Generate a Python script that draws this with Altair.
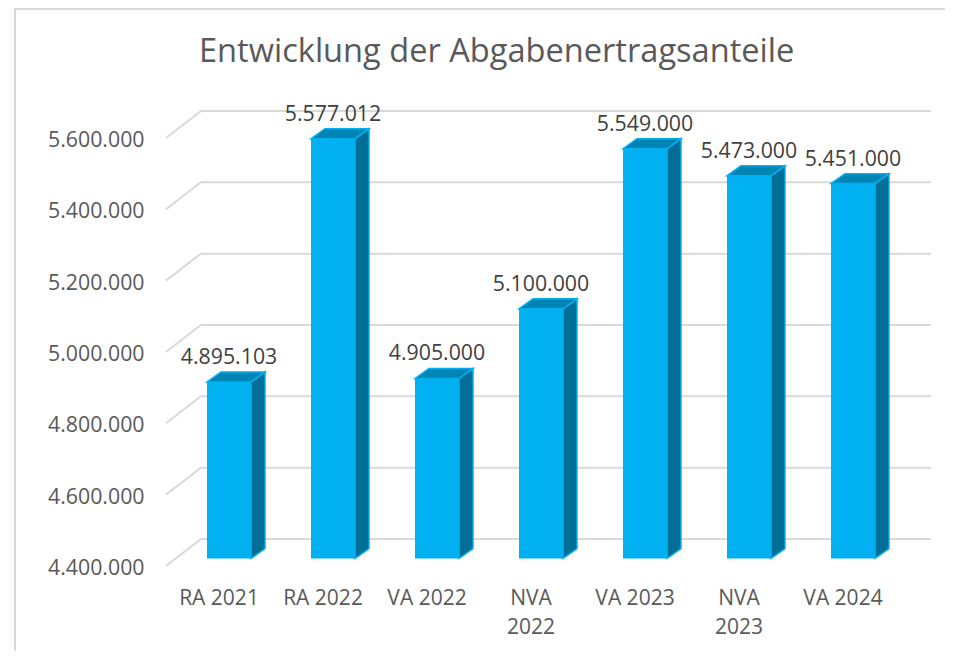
import altair as alt
import pandas as pd

categories = ["RA 2021", "RA 2022", "VA 2022", "NVA 2022", "VA 2023", "NVA 2023", "VA 2024"]
axis_labels = ["RA 2021", "RA 2022", "VA 2022", "NVA|2022", "VA 2023", "NVA|2023", "VA 2024"]
values = [4895103, 5577012, 4905000, 5100000, 5549000, 5473000, 5451000]
ticks = [4400000, 4600000, 4800000, 5000000, 5200000, 5400000, 5600000]
BASE = 4400000

# 3D geometry in data units (1 x unit = one category step)
HALF = 0.2115
DX = 0.1346
DY = 28000
WALL_X0, WALL_X1, WALL_XR = -0.606, -0.27, 6.75
FRONT_DY, BACK_DY = -21000, 54700

x_scale = alt.Scale(domain=[WALL_X0, WALL_XR], nice=False, zero=False)
y_scale = alt.Scale(domain=[BASE + FRONT_DY, 5654600], nice=False, zero=False)

grid_rows = []
for t in ticks:
    grid_rows += [
        {"tick": t, "step": 0, "x": WALL_X0, "y": t + FRONT_DY},
        {"tick": t, "step": 1, "x": WALL_X1, "y": t + BACK_DY},
        {"tick": t, "step": 2, "x": WALL_XR, "y": t + BACK_DY},
    ]
front_rows, side_rows, top_rows, label_rows = [], [], [], []
for i, (c, v) in enumerate(zip(categories, values)):
    xl, xr = i - HALF, i + HALF
    front_rows.append({"cat": c, "x": xl, "x2": xr, "y": v, "y2": BASE})
    side_rows += [
        {"cat": c, "x": xr, "y": BASE, "y2": v},
        {"cat": c, "x": xr + DX, "y": BASE + DY, "y2": v + DY},
    ]
    top_rows += [
        {"cat": c, "x": xl, "y": v, "y2": v},
        {"cat": c, "x": xl + DX, "y": v, "y2": v + DY},
        {"cat": c, "x": xr, "y": v, "y2": v + DY},
        {"cat": c, "x": xr + DX, "y": v + DY, "y2": v + DY},
    ]
    label_rows.append({"x": i, "y": v, "text": f"{v:,}".replace(",", ".")})

label_array = "[" + ",".join(f"'{s}'" for s in axis_labels) + "]"
x_axis = alt.Axis(
    values=list(range(len(categories))), title=None, domain=False, ticks=False, grid=False,
    labelExpr=f"split({label_array}[datum.value],'|')",
    labelFont="Open Sans", labelFontSize=21, labelColor="#595959",
    labelPadding=21, labelOffset=-10.5, labelOverlap=False, labelFlush=False, labelBound=False,
    labelLineHeight=29, labelBaseline="top", labelAngle=0,
)
y_axis = alt.Axis(
    values=ticks, title=None, domain=False, ticks=False, grid=False,
    labelExpr="replace(format(datum.value,','),/,/g,'.')",
    labelFont="Open Sans", labelFontSize=21.3, labelColor="#595959",
    labelPadding=22, labelOffset=10, labelOverlap=False, labelFlush=False, labelBound=False,
)

frame_left = alt.Chart(pd.DataFrame({"a": [0]})).mark_rule(color="#d9d9d9", strokeWidth=2, clip=False).encode(
    x=alt.value(-151), y=alt.value(-103), y2=alt.value(552))
frame_top = alt.Chart(pd.DataFrame({"a": [0]})).mark_rule(color="#d9d9d9", strokeWidth=2, clip=False).encode(
    x=alt.value(-151), x2=alt.value(790), y=alt.value(-102))

X = alt.X("x:Q", scale=x_scale, axis=x_axis)
Y = alt.Y("y:Q", scale=y_scale, axis=y_axis)

grid = alt.Chart(pd.DataFrame(grid_rows)).mark_line(color="#d9d9d9", strokeWidth=2, clip=False).encode(
    x=X, y=Y, detail="tick:N", order="step:Q",
)
side = alt.Chart(pd.DataFrame(side_rows)).mark_area(
    orient="vertical", color="#006E96", stroke="#00B0F0", strokeWidth=1.5, clip=False
).encode(x=X, y=Y, y2="y2:Q", detail="cat:N")
top = alt.Chart(pd.DataFrame(top_rows)).mark_area(
    orient="vertical", color="#0084B4", stroke="#00B0F0", strokeWidth=1.5, clip=False
).encode(x=X, y=Y, y2="y2:Q", detail="cat:N")
front = alt.Chart(pd.DataFrame(front_rows)).mark_rect(color="#00B0F0", clip=False).encode(
    x=X, x2="x2:Q", y=Y, y2="y2:Q",
)
labels = alt.Chart(pd.DataFrame(label_rows)).mark_text(
    font="Open Sans", fontSize=21.3, color="#404040", dy=-24, clip=False
).encode(x=X, y=Y, text="text:N")

chart = alt.layer(frame_left, frame_top, grid, side, top, front, labels).properties(
    width=765,
    height=455,
    padding={"left": 158, "top": 103, "right": 14, "bottom": 85},
    autosize=alt.AutoSizeParams(type="none"),
    background="white",
    title=alt.TitleParams(
        "Entwicklung der Abgabenertragsanteile",
        font="Open Sans", fontSize=32.6, fontWeight="normal", color="#595959",
        anchor="start", dx=185, offset=-62,
    ),
).configure_view(stroke=None)

chart.save("out.html", embed_options={"renderer": "svg", "actions": False})
